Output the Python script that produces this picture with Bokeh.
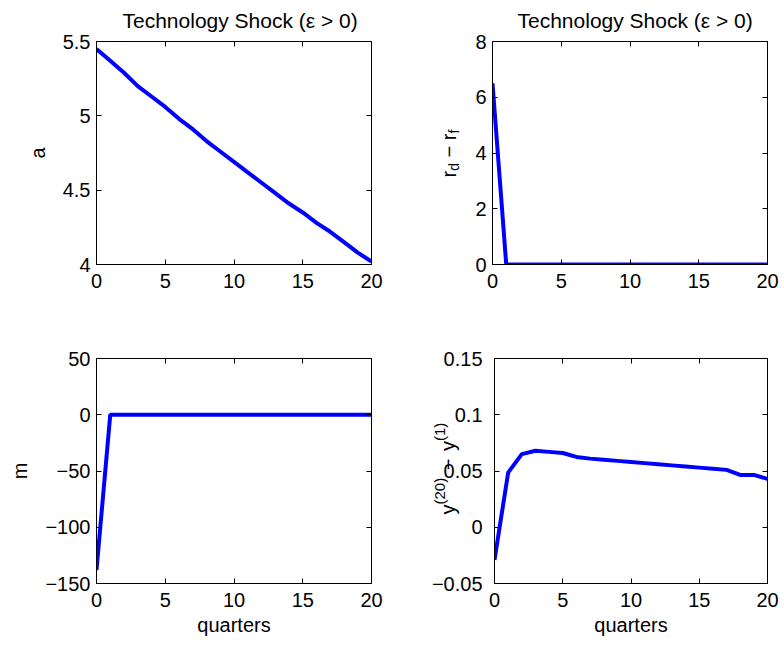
import math
from bokeh.plotting import figure
from bokeh.models import Range1d, LinearAxis, FixedTicker, CustomLabelingPolicy
from bokeh.core.properties import value
from bokeh.layouts import column, row
from bokeh.embed import file_html
from bokeh.resources import INLINE

# ---------------- data ----------------
quarters = [0, 1, 2, 3, 4, 5, 6, 7, 8, 9, 10, 11, 12, 13, 14, 15, 16, 17, 18, 19, 20]
a_vals = [5.45, 5.37, 5.29, 5.20, 5.13, 5.06, 4.98, 4.91, 4.83, 4.76, 4.69,
          4.62, 4.55, 4.48, 4.41, 4.35, 4.28, 4.22, 4.15, 4.08, 4.02]
rd_rf_vals = [6.5, 0, 0, 0, 0, 0, 0, 0, 0, 0, 0, 0, 0, 0, 0, 0, 0, 0, 0, 0, 0]
m_vals = [-138, 0, 0, 0, 0, 0, 0, 0, 0, 0, 0, 0, 0, 0, 0, 0, 0, 0, 0, 0, 0]
spread_vals = [-0.029, 0.0485, 0.065, 0.068, 0.067, 0.066, 0.0625, 0.061, 0.060, 0.059,
               0.058, 0.057, 0.056, 0.055, 0.054, 0.053, 0.052, 0.051, 0.0465, 0.0465, 0.043]

x_ticks = [0, 5, 10, 15, 20]
x_tick_labels = ["0", "5", "10", "15", "20"]
a_ticks = [4, 4.5, 5, 5.5]
a_tick_labels = ["4", "4.5", "5", "5.5"]
rd_ticks = [0, 2, 4, 6, 8]
rd_tick_labels = ["0", "2", "4", "6", "8"]
m_ticks = [-150, -100, -50, 0, 50]
m_tick_labels = ["\u2212150", "\u2212100", "\u221250", "0", "50"]
sp_ticks = [-0.05, 0, 0.05, 0.1, 0.15]
sp_tick_labels = ["\u22120.05", "0", "0.05", "0.1", "0.15"]

title_text = "Technology Shock (\u03b5 > 0)"
xlabel_text = "quarters"
a_label = "a"
m_label = "m"
rd_label_parts = ["r", "d", "\u2212", "r", "f"]
sp_label_parts = ["y", "(20)", "\u2212", "y", "(1)"]

FONT = "Liberation Sans"
FS = 20
TFS = 21
SUB = 14
SUP = 15
LINE_COLOR = "#0000FF"

# Arial/Helvetica advance widths (em)
W = {"r": .333, "d": .556, " ": .278, "\u2212": .584, "f": .278, "y": .5,
     "(": .333, ")": .333, "0": .556, "1": .556, "2": .556}


def tw(s, size):
    return sum(W.get(c, .556) for c in s) * size


HIDE = CustomLabelingPolicy(code="""
for (const i of indices)
  indices.unset(i)
""")


def style_axis(ax, ticks, labels, show):
    ax.ticker = FixedTicker(ticks=ticks)
    ax.major_label_overrides = {t: l for t, l in zip(ticks, labels)}
    ax.major_tick_in = 5
    ax.major_tick_out = 0
    ax.minor_tick_in = 0
    ax.minor_tick_out = 0
    ax.axis_line_color = "black"
    ax.axis_line_width = 1
    ax.major_tick_line_color = "black"
    ax.major_tick_line_width = 1
    ax.major_label_text_font = FONT
    ax.major_label_text_color = "black"
    ax.major_label_text_font_size = f"{FS}px" if show else "1px"
    ax.axis_label_text_font = FONT
    ax.axis_label_text_font_size = f"{FS}px"
    ax.axis_label_text_font_style = "normal"
    ax.axis_label_text_color = "black"
    if not show:
        ax.major_label_policy = HIDE
        ax.major_label_standoff = 0


def make_panel(y_vals, yr, yticks, ylabels, bl, br, bt, bb, width, height,
               ylabel=None, xlabel=None, show_ylabels=True):
    p = figure(width=width, height=height, x_range=Range1d(0, 20), y_range=Range1d(*yr),
               output_backend="svg", toolbar_location=None,
               min_border_left=bl, min_border_right=br, min_border_top=bt, min_border_bottom=bb)
    p.grid.visible = False
    p.outline_line_color = None
    p.background_fill_color = "white"
    p.border_fill_color = "white"
    style_axis(p.xaxis[0], x_ticks, x_tick_labels, True)
    p.xaxis[0].major_label_standoff = 9
    style_axis(p.yaxis[0], yticks, ylabels, show_ylabels)
    if show_ylabels:
        p.yaxis[0].major_label_standoff = 6
    if ylabel:
        p.yaxis[0].axis_label = ylabel
        p.yaxis[0].axis_label_standoff = 11
    if xlabel:
        p.xaxis[0].axis_label = xlabel
        p.xaxis[0].axis_label_standoff = 4
    top = LinearAxis()
    style_axis(top, x_ticks, x_tick_labels, False)
    p.add_layout(top, "above")
    right = LinearAxis()
    style_axis(right, yticks, ylabels, False)
    p.add_layout(right, "right")
    p.line(quarters, y_vals, line_color=LINE_COLOR, line_width=4)
    return p


def set_title(p, offset):
    p.title.text = title_text
    p.title.align = "left"
    p.title.offset = offset
    p.title.text_font = FONT
    p.title.text_font_size = f"{TFS}px"
    p.title.text_font_style = "normal"
    p.title.text_color = "black"
    p.title.standoff = 12


def label_fig(width, height, yr_ext):
    q = figure(width=width, height=height, x_range=Range1d(0, width), y_range=Range1d(*yr_ext),
               output_backend="svg", toolbar_location=None, x_axis_type=None, y_axis_type=None,
               min_border_left=0, min_border_right=0, min_border_top=0, min_border_bottom=0)
    q.grid.visible = False
    q.outline_line_color = None
    q.background_fill_color = "white"
    q.border_fill_color = "white"
    if "frame_align" in q.properties():
        q.frame_align = False
    return q


def add_rich(q, parts, sizes, shifts, gaps, x_base, y_start, px_to_data):
    # rotated (reading upward) label assembled from pieces; gaps = space before/after piece (px)
    xs, ys, texts, fsz = [], [], [], []
    y = y_start
    for t, s, sh, g in zip(parts, sizes, shifts, gaps):
        y += g * px_to_data
        xs.append(x_base - sh)
        ys.append(y)
        texts.append(t)
        fsz.append(f"{s}px")
        y += (tw(t, s) + g) * px_to_data
    q.text(x=xs, y=ys, text=texts, text_font_size=fsz, angle=math.pi / 2,
           text_align="left", text_baseline="alphabetic", text_font=value(FONT),
           text_color="black")


SP = W[" "] * FS
FW = 275
# ---- top row ----
H1, BT1, BB1, FH1 = 314, 40, 50, 224
L2W = 70
p1 = make_panel(a_vals, (4, 5.5), a_ticks, a_tick_labels, 96, 21, BT1, BB1, 392, H1, ylabel=a_label)
p2 = make_panel(rd_rf_vals, (0, 8), rd_ticks, rd_tick_labels, 100 - L2W, 17, BT1, BB1, 392 - L2W, H1)
set_title(p1, 26)
set_title(p2, 25)
s2 = 8.0 / FH1
q2 = label_fig(L2W, H1, (0 - BB1 * s2, 8 + BT1 * s2))
# label: baseline at page x 448 ; bottom end at page y 177
add_rich(q2, rd_label_parts, [FS, SUB, FS, FS, SUB], [0, -5, 0, 0, -5], [0, 0, SP, 0, 0],
         448 - 392, 8 - (177 - BT1) * s2, s2)

# ---- bottom row ----
H2, BT2, BB2, FH2 = 331, 44, 62, 225
L4W = 96
p3 = make_panel(m_vals, (-150, 50), m_ticks, m_tick_labels, 96, 21, BT2, BB2, 392, H2,
                ylabel=m_label, xlabel=xlabel_text)
p4 = make_panel(spread_vals, (-0.05, 0.15), sp_ticks, sp_tick_labels, 100 - L4W, 17, BT2, BB2,
                392 - L4W, H2, xlabel=xlabel_text, show_ylabels=False)
s4 = 0.2 / FH2
q4 = label_fig(L4W, H2, (-0.05 - BB2 * s4, 0.15 + BT2 * s4))
# tick labels of the right-bottom panel, right aligned 6px left of its frame
q4.text(x=[L4W - 6] * len(sp_ticks), y=sp_ticks, text=sp_tick_labels,
        text_align="right", text_baseline="middle", text_font=value(FONT),
        text_font_size=value(f"{FS}px"), text_color="black")
add_rich(q4, sp_label_parts, [FS, SUP, FS, FS, SUP], [0, 8, 0, 0, 8], [0, 0, SP + 2, 0, 0],
         447 - 392, 0.15 - (514 - 358) * s4, s4)

layout = column(row(p1, q2, p2), row(p3, q4, p4))
open("out.html", "w").write(file_html(layout, INLINE))
